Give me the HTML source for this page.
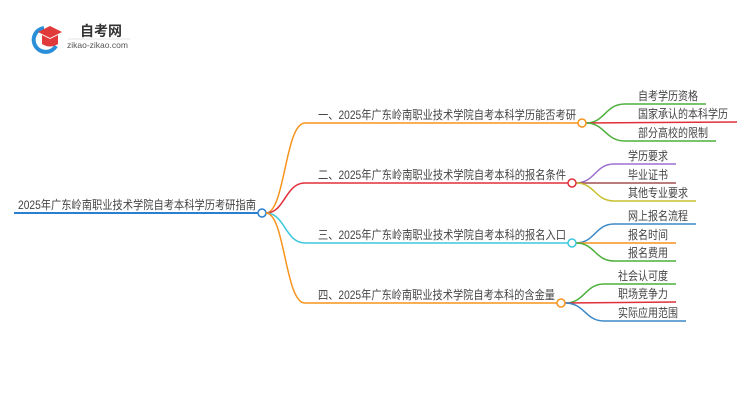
<!DOCTYPE html>
<html><head><meta charset="utf-8"><style>
body{margin:0;background:#fff;width:750px;height:410px;overflow:hidden}
text{font-family:"Liberation Sans","Noto Sans CJK SC",sans-serif;fill:#444}
</style></head><body>
<svg width="750" height="410" xmlns="http://www.w3.org/2000/svg">
<path d="M44 28 A12 12 0 1 0 56 46" fill="none" stroke="#2a8fd8" stroke-width="4"/>
<polygon points="38,32 50,26 62,32 50,38" fill="#e03a3a"/>
<path d="M42 35 L42 44 Q50 49 58 44 L58 35 L50 39 Z" fill="#e03a3a"/>
<text x="80" y="36" font-size="14" font-weight="bold" style="fill:#333">自考网</text>
<line x1="68" y1="39" x2="130" y2="39" stroke="#ccc" stroke-width="0.6"/>
<text x="67" y="48" font-size="8.5" style="fill:#555">zikao-zikao.com</text>

<text x="18" y="209" font-size="12" textLength="238" lengthAdjust="spacingAndGlyphs">2025年广东岭南职业技术学院自考本科学历考研指南</text>
<line x1="14" y1="213" x2="258" y2="213" stroke="#2a7fd0" stroke-width="2"/>
<circle cx="262" cy="213" r="4" fill="#fff" stroke="#2a7fd0" stroke-width="1.5"/>

<g fill="none" stroke-width="1.5">
<path d="M266 213 C285 213 285 123 305 123 L578 123" stroke="#f7931e"/>
<path d="M266 213 C285 213 285 183 305 183 L568 183" stroke="#e0303a"/>
<path d="M266 213 C285 213 285 243 305 243 L568 243" stroke="#3cc8dc"/>
<path d="M266 213 C285 213 285 303 305 303 L557 303" stroke="#f7931e"/>

<path d="M586 123 C605 123 605 104 625 104 L706 104" stroke="#4caf3c"/>
<path d="M586 123 L737 122" stroke="#e0303a"/>
<path d="M586 123 C605 123 605 141 625 141 L716 141" stroke="#4caf3c"/>

<path d="M576 183 C595 183 595 164 614 164 L676 164" stroke="#9b6fd0"/>
<path d="M576 183 L676 183" stroke="#a05050"/>
<path d="M576 183 C595 183 595 201 614 201 L696 201" stroke="#c8c030"/>

<path d="M576 243 C595 243 595 224 614 224 L696 224" stroke="#3a88c8"/>
<path d="M576 243 L676 243" stroke="#f7931e"/>
<path d="M576 243 C595 243 595 261 614 261 L676 261" stroke="#4caf3c"/>

<path d="M565 303 C585 303 585 284 604 284 L676 284" stroke="#4caf3c"/>
<path d="M565 303 L676 302" stroke="#e0303a"/>
<path d="M565 303 C585 303 585 321 604 321 L686 321" stroke="#3a88c8"/>
</g>
<circle cx="582" cy="123" r="4" fill="#fff" stroke="#f7931e" stroke-width="1.5"/>
<circle cx="572" cy="183" r="4" fill="#fff" stroke="#e0303a" stroke-width="1.5"/>
<circle cx="572" cy="243" r="4" fill="#fff" stroke="#3cc8dc" stroke-width="1.5"/>
<circle cx="561" cy="303" r="4" fill="#fff" stroke="#f7931e" stroke-width="1.5"/>

<g font-size="12" lengthAdjust="spacingAndGlyphs">
<text x="318" y="119" textLength="258" lengthAdjust="spacingAndGlyphs">一、2025年广东岭南职业技术学院自考本科学历能否考研</text>
<text x="318" y="179" textLength="248" lengthAdjust="spacingAndGlyphs">二、2025年广东岭南职业技术学院自考本科的报名条件</text>
<text x="318" y="239" textLength="248" lengthAdjust="spacingAndGlyphs">三、2025年广东岭南职业技术学院自考本科的报名入口</text>
<text x="318" y="299" textLength="237" lengthAdjust="spacingAndGlyphs">四、2025年广东岭南职业技术学院自考本科的含金量</text>

<text x="638" y="100" textLength="60" lengthAdjust="spacingAndGlyphs">自考学历资格</text>
<text x="638" y="118" textLength="90" lengthAdjust="spacingAndGlyphs">国家承认的本科学历</text>
<text x="638" y="137" textLength="70" lengthAdjust="spacingAndGlyphs">部分高校的限制</text>
<text x="628" y="160" textLength="40" lengthAdjust="spacingAndGlyphs">学历要求</text>
<text x="628" y="179" textLength="40" lengthAdjust="spacingAndGlyphs">毕业证书</text>
<text x="628" y="197" textLength="60" lengthAdjust="spacingAndGlyphs">其他专业要求</text>
<text x="628" y="220" textLength="60" lengthAdjust="spacingAndGlyphs">网上报名流程</text>
<text x="628" y="239" textLength="40" lengthAdjust="spacingAndGlyphs">报名时间</text>
<text x="628" y="257" textLength="40" lengthAdjust="spacingAndGlyphs">报名费用</text>
<text x="618" y="280" textLength="50" lengthAdjust="spacingAndGlyphs">社会认可度</text>
<text x="618" y="298" textLength="50" lengthAdjust="spacingAndGlyphs">职场竞争力</text>
<text x="618" y="317" textLength="60" lengthAdjust="spacingAndGlyphs">实际应用范围</text>
</g>
</svg>
</body></html>
